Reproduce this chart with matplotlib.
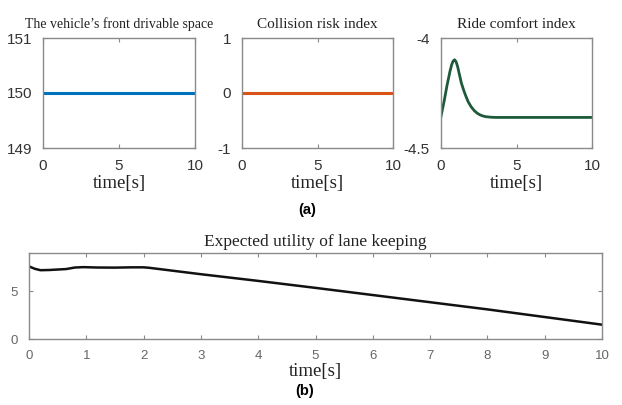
import matplotlib
matplotlib.use("Agg")
import matplotlib.pyplot as plt
import numpy as np

# ---- data ----
t_const = [0, 10]
drivable_space = [150, 150]
collision_risk = [0, 0]

t_comfort = [0, 0.2, 0.4, 0.6, 0.7, 0.8, 0.9, 1.0, 1.1, 1.2, 1.35, 1.5, 1.65, 1.8, 2.0, 2.2, 2.4, 2.6, 2.8, 3.0, 3.3, 3.6, 4.0, 5.0, 6.0, 7.0, 8.0, 9.0, 10.0]
ride_comfort = [-4.356, -4.29, -4.215, -4.15, -4.123, -4.105, -4.099, -4.108, -4.13, -4.16, -4.205, -4.237, -4.265, -4.29, -4.313, -4.33, -4.342, -4.35, -4.355, -4.358, -4.36, -4.361, -4.361, -4.361, -4.361, -4.361, -4.361, -4.361, -4.361]

t_util = [0, 0.1, 0.2, 0.35, 0.5, 0.65, 0.8, 0.95, 1.2, 1.5, 1.8, 2.0, 2.1, 3, 4, 5, 6, 7, 8, 9, 10]
utility = [7.6, 7.35, 7.2, 7.22, 7.27, 7.32, 7.48, 7.52, 7.48, 7.47, 7.5, 7.5, 7.45, 6.78, 6.08, 5.35, 4.6, 3.85, 3.1, 2.3, 1.5]

top_titles = ["The vehicle\u2019s front drivable space", "Collision risk index", "Ride comfort index"]
bottom_title = "Expected utility of lane keeping"

W, H = 622, 405
fig = plt.figure(figsize=(W / 100, H / 100), dpi=100)

def px_axes(left, top, right, bottom):
    return fig.add_axes([left / W, 1 - bottom / H, (right - left) / W, (bottom - top) / H])

serif = ["Liberation Serif", "DejaVu Serif"]
sans = ["Liberation Sans", "DejaVu Sans"]
frame_col = "#8a8a8a"

def style(ax, tick_size, tick_col, pad):
    for s in ax.spines.values():
        s.set_color(frame_col)
        s.set_linewidth(1.0)
    ax.tick_params(direction="in", length=3, width=0.8, color=frame_col,
                   top=True, right=True, labelsize=tick_size, labelcolor=tick_col, pad=pad)
    for lab in ax.get_xticklabels() + ax.get_yticklabels():
        lab.set_fontfamily(sans)

# top row
specs = [
    (43, 195, t_const, drivable_space, "#0072BD", (149, 151), [149, 150, 151], ["149", "150", "151"], 10),
    (242, 393, t_const, collision_risk, "#D95319", (-1, 1), [-1, 0, 1], ["-1", "0", "1"], 11),
    (441, 592, t_comfort, ride_comfort, "#1E5A3A", (-4.5, -4.0), [-4.5, -4.0], ["-4.5", "-4"], 11),
]
for i, (l, r, x, y, c, yl, yt, ytl, tsize) in enumerate(specs):
    ax = px_axes(l, 38, r, 148)
    ax.plot(x, y, color=c, lw=2.2 if i < 2 else 2.0)
    ax.set_xlim(0, 10)
    ax.set_ylim(*yl)
    ax.set_xticks([0, 5, 10])
    ax.set_yticks(yt)
    ax.set_yticklabels(ytl)
    style(ax, 11, "#333333", 8)
    ax.set_title(top_titles[i], fontfamily=serif, fontsize=tsize, pad=7, color="#222222")
    ax.set_xlabel("time[s]", fontfamily=serif, fontsize=13.5, color="#222222")
    ax.xaxis.set_label_coords(0.5, -0.245)

fig.text(307 / W, 1 - 210 / H, "(a)", ha="center", va="center", fontsize=10.5,
         fontweight="bold", fontfamily=sans)

# bottom
ax = px_axes(29, 253, 602, 339)
ax.plot(t_util, utility, color="#111111", lw=1.8)
ax.set_xlim(0, 10)
ax.set_ylim(0, 9)
ax.set_xticks(range(0, 11))
ax.set_yticks([0, 5])
style(ax, 9.5, "#666666", 8)
ax.set_title(bottom_title, fontfamily=serif, fontsize=12.5, pad=5, color="#222222")
ax.set_xlabel("time[s]", fontfamily=serif, fontsize=13.5, color="#222222")
ax.xaxis.set_label_coords(0.5, -0.28)

fig.text(305 / W, 1 - 391 / H, "(b)", ha="center", va="center", fontsize=10.5,
         fontweight="bold", fontfamily=sans)

fig.savefig("out.png", dpi=100)
